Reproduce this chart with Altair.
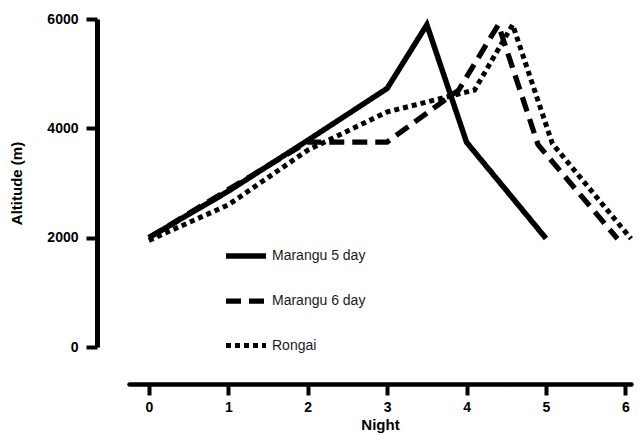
import altair as alt
import pandas as pd

routes = ["Marangu 5 day", "Marangu 6 day", "Rongai"]

m5_night = [0, 1, 2, 3, 3.5, 4, 5]
m5_alt = [2000, 2850, 3780, 4730, 5895, 3745, 1985]

m6_night = [0, 1, 2, 3, 3.9, 4.4, 4.9, 5.9]
m6_alt = [2000, 2880, 3750, 3750, 4700, 5895, 3700, 1980]

rg_night = [0, 1, 2, 3, 4.1, 4.58, 5.08, 6.07]
rg_alt = [1950, 2600, 3600, 4300, 4700, 5895, 3720, 1980]

x_ticks = [0, 1, 2, 3, 4, 5, 6]
y_ticks = [0, 2000, 4000, 6000]

rows = []
for name, xs, ys in [(routes[0], m5_night, m5_alt),
                     (routes[1], m6_night, m6_alt),
                     (routes[2], rg_night, rg_alt)]:
    for i, (a, b) in enumerate(zip(xs, ys)):
        rows.append({"route": name, "night": a, "alt": b, "i": i})
df = pd.DataFrame(rows)

FONT = "Liberation Sans"

def make_legend():
    return alt.Legend(title=None, orient="none", legendX=94, legendY=214,
                      symbolType="stroke", symbolSize=1600,
                      symbolStrokeColor="black",
                      labelFontSize=14, labelFont=FONT, labelColor="#1a1a1a",
                      labelOffset=3, rowPadding=11)

chart = alt.Chart(df).mark_line(color="black", strokeJoin="miter", strokeCap="butt").encode(
    x=alt.X("night:Q",
            scale=alt.Scale(domain=[-0.25, 6.07], nice=False, zero=False),
            axis=alt.Axis(values=x_ticks, format="d", title="Night", offset=37, tickSize=11,
                          domainWidth=4.5, tickWidth=4, domainColor="black", tickColor="black",
                          domainCap="round",
                          labelFontWeight="bold", labelFontSize=14, labelColor="black",
                          labelPadding=5, labelFont=FONT, titleFont=FONT,
                          titleFontSize=15, titleFontWeight="bold", titleColor="black",
                          titlePadding=3, grid=False, labelFlush=False)),
    y=alt.Y("alt:Q",
            scale=alt.Scale(domain=[0, 6000], nice=False),
            axis=alt.Axis(values=y_ticks, format="d", title="Altitude (m)", offset=32, tickSize=11,
                          domainWidth=5, tickWidth=4, domainColor="black", tickColor="black",
                          labelFontWeight="bold", labelFontSize=14, labelColor="black",
                          labelPadding=8, labelFont=FONT, titleFont=FONT,
                          titleFontSize=15, titleFontWeight="bold", titleColor="black",
                          titlePadding=22, grid=False)),
    order="i:Q",
    strokeDash=alt.StrokeDash("route:N",
                              scale=alt.Scale(domain=routes, range=[[1, 0], [15, 8], [5, 4]]),
                              legend=make_legend()),
    strokeWidth=alt.StrokeWidth("route:N",
                                scale=alt.Scale(domain=routes, range=[5.5, 5, 2.5]),
                                legend=make_legend()),
).properties(
    width=502, height=328,
    autosize=alt.AutoSizeParams(type="none"),
    padding={"left": 121, "top": 11, "right": 4, "bottom": 87},
).configure_view(stroke=None)

chart.save("out.html", embed_options={"renderer": "svg", "actions": False})
